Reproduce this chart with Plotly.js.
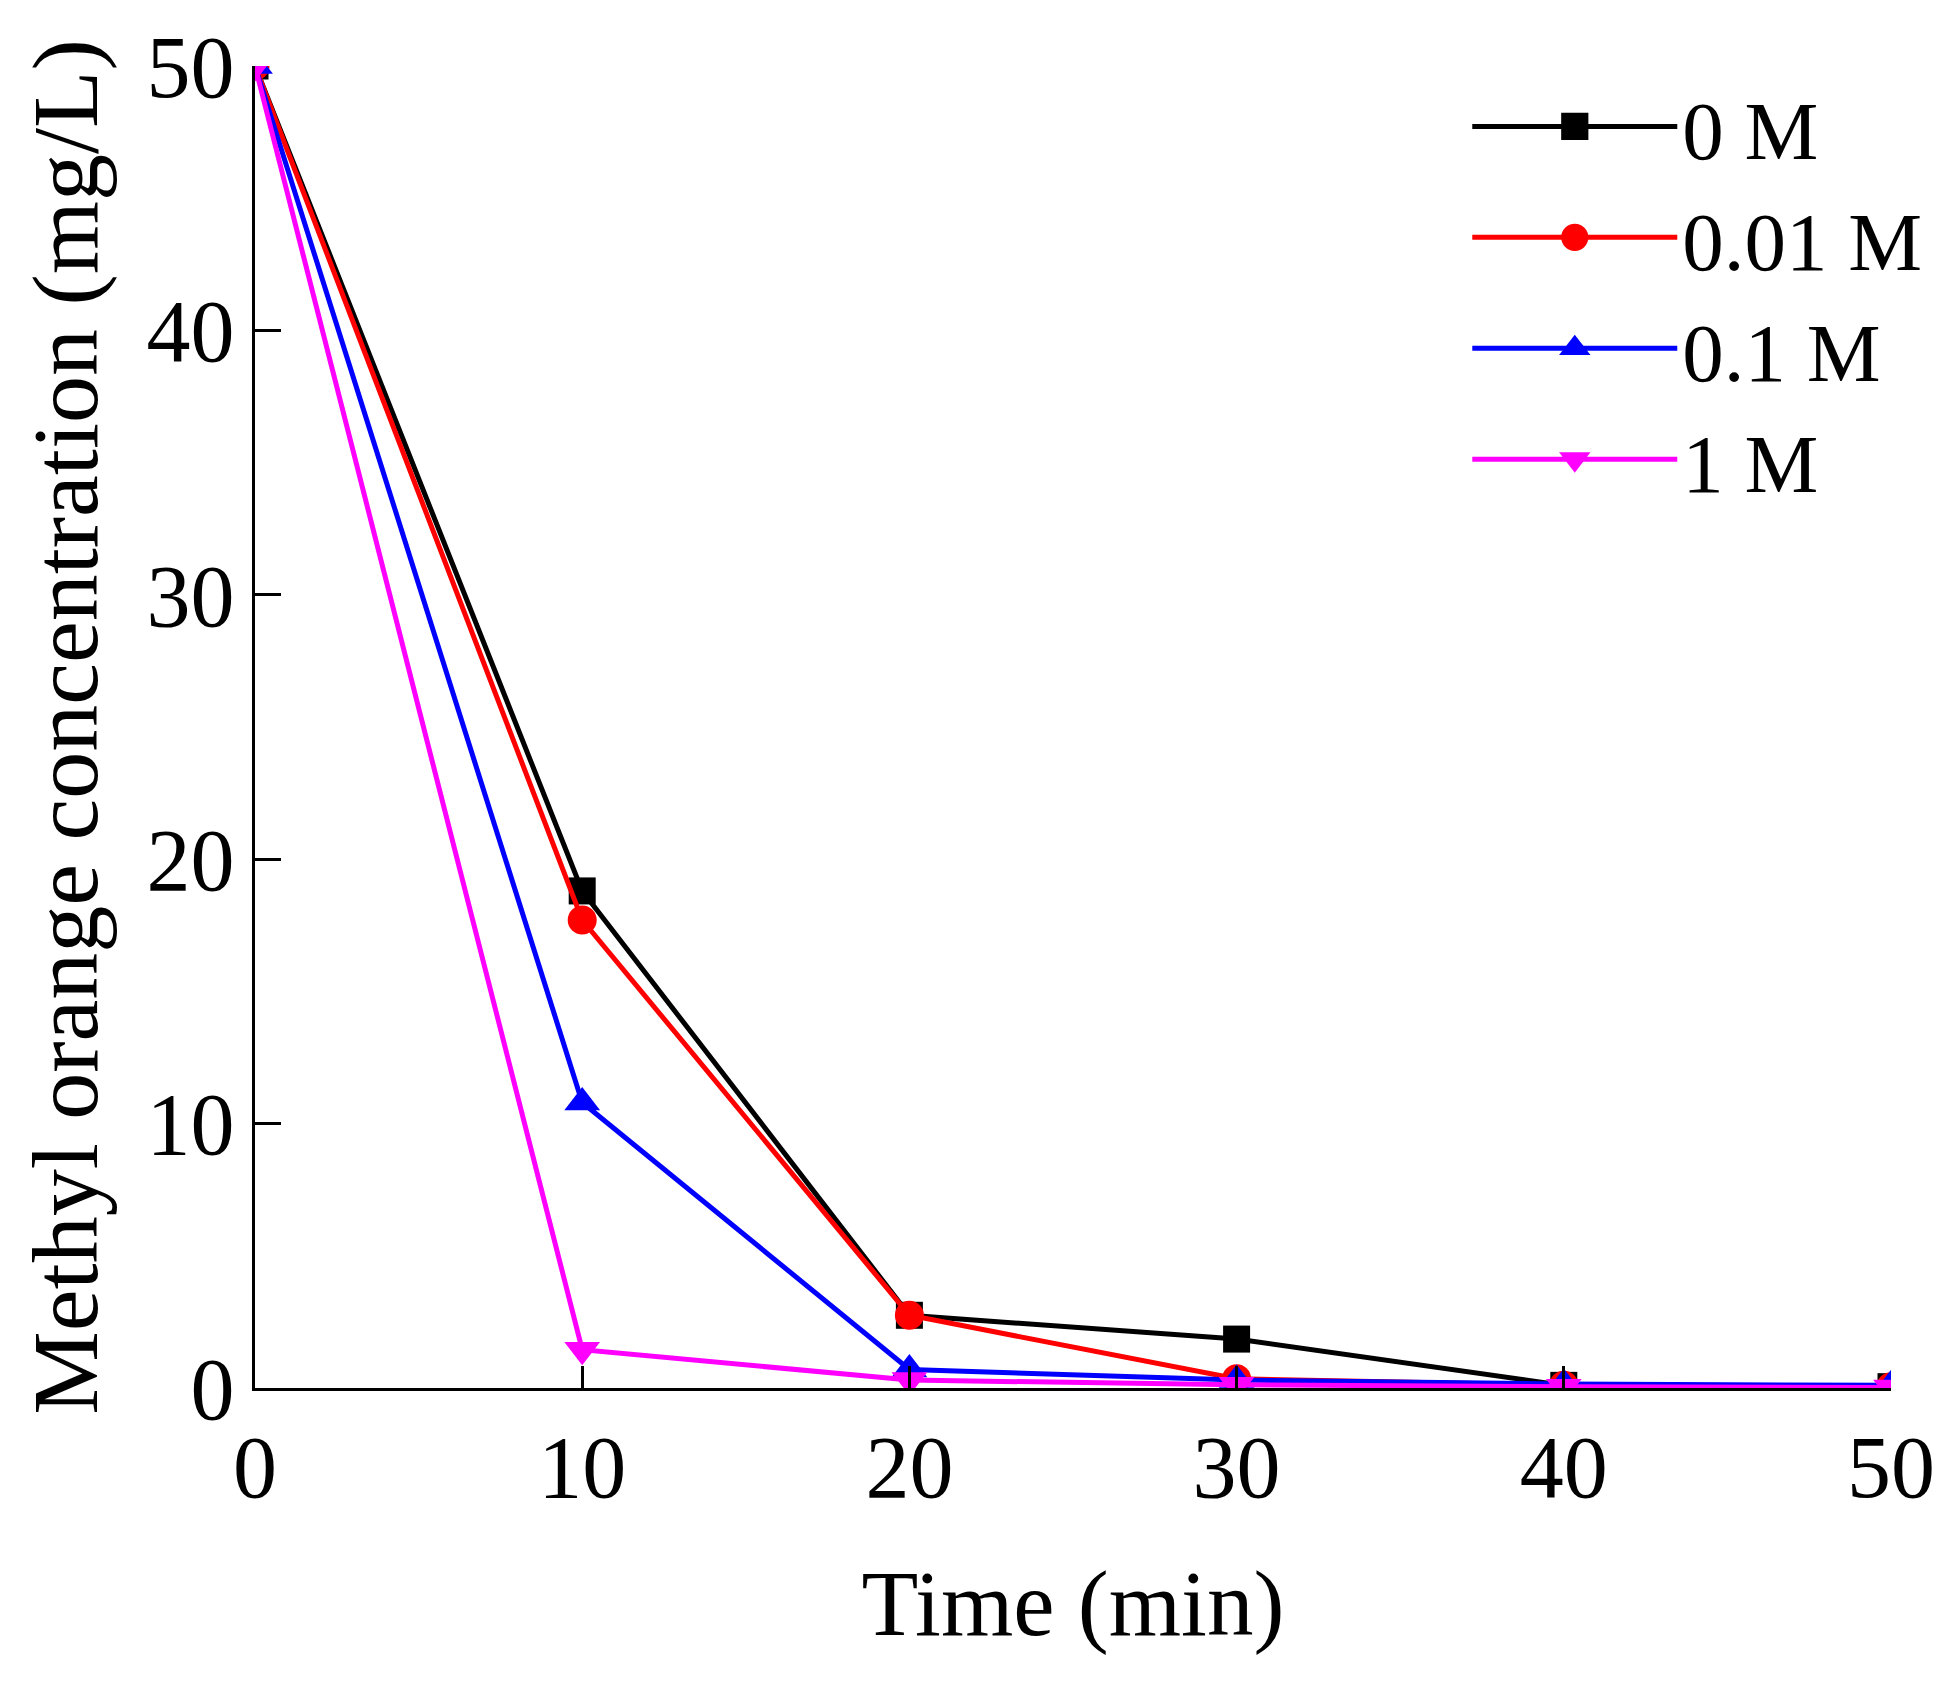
<!DOCTYPE html>
<html>
<head>
<meta charset="utf-8">
<script src="https://cdn.plot.ly/plotly-3.0.1.min.js"></script>
<style>html,body{margin:0;padding:0;background:#fff;}#chart{width:1956px;height:1689px;}</style>
</head>
<body>
<div id="chart"></div>
<script>
const time = [0, 10, 20, 30, 40, 50];
const seriesNames = ["0 M", "0.01 M", "0.1 M", "1 M"];
const conc0M = [50, 18.8, 2.75, 1.85, 0.1, 0.05];
const conc001M = [50, 17.7, 2.75, 0.35, 0.1, 0.05];
const conc01M = [50, 10.8, 0.7, 0.3, 0.15, 0.1];
const conc1M = [50, 1.45, 0.3, 0.12, 0.05, 0.02];
const xTicks = [0, 10, 20, 30, 40, 50];
const yTicks = [0, 10, 20, 30, 40, 50];

const colors = ["#000000", "#ff0000", "#0000ff", "#ff00ff"];
const symbols = ["square", "circle", "triangle-up", "triangle-down"];
const sizes = [27, 29, 31, 31];
const allSeries = [conc0M, conc001M, conc01M, conc1M];

const traces = allSeries.map((ys, i) => ({
  x: time, y: ys, name: seriesNames[i], type: "scatter", mode: "lines+markers",
  line: {color: colors[i], width: 5},
  marker: {color: colors[i], symbol: symbols[i], size: sizes[i]},
  cliponaxis: true
}));

const font = "Liberation Serif, Times New Roman, serif";
const layout = {
  width: 1956, height: 1689,
  margin: {l: 255, r: 65, t: 66, b: 301},
  paper_bgcolor: "#fff", plot_bgcolor: "#fff",
  font: {family: font, color: "#000", size: 88},
  showlegend: true,
  legend: {x: 0.741, y: 1.0, xanchor: "left", yanchor: "top", bgcolor: "rgba(0,0,0,0)",
    itemwidth: 205, itemsizing: "trace",
    font: {family: font, size: 83, color: "#000"}, tracegroupgap: 0},
  xaxis: {
    range: [0, 50], tickvals: xTicks, ticktext: xTicks.map(String),
    showgrid: false, zeroline: false, showline: true, linecolor: "#000", linewidth: 3,
    ticks: "inside", ticklen: 22, tickwidth: 3, tickcolor: "#000",
    tickfont: {family: font, size: 88}, mirror: false,
    title: {text: "Time (min)", font: {family: font, size: 93}, standoff: 56}
  },
  yaxis: {
    range: [0, 50], tickvals: yTicks, ticktext: yTicks.map(String),
    showgrid: false, zeroline: false, showline: true, linecolor: "#000", linewidth: 3,
    ticks: "inside", ticklen: 26, tickwidth: 3, tickcolor: "#000",
    tickfont: {family: font, size: 88}, mirror: false,
    title: {text: "Methyl orange concentration (mg/L)", font: {family: font, size: 94}, standoff: 18}
  }
};

function enlargeLegendMarkers() {
  document.querySelectorAll('.legend .legendpoints path.scatterpts').forEach(p => {
    if (p.dataset.scaled) return;
    const t = p.getAttribute('transform') || '';
    p.setAttribute('transform', t + ' scale(1.7)');
    p.dataset.scaled = '1';
  });
}

Plotly.newPlot("chart", traces, layout, {displayModeBar: false, staticPlot: true}).then(gd => {
  enlargeLegendMarkers();
  gd.on('plotly_afterplot', enlargeLegendMarkers);
});
</script>
</body>
</html>
